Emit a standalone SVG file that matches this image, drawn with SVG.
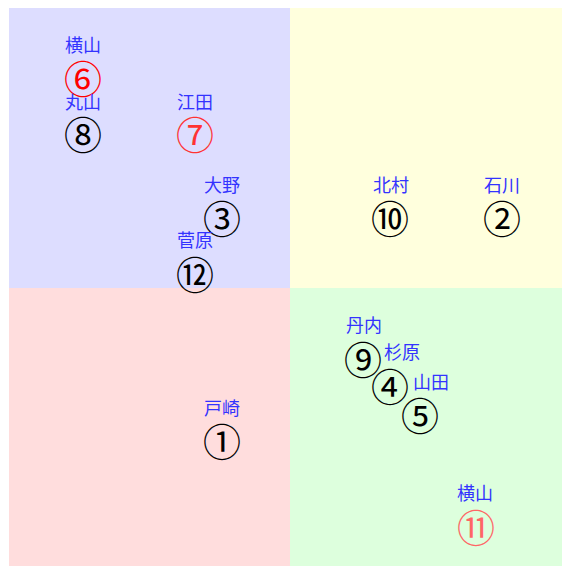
<svg xmlns="http://www.w3.org/2000/svg" width="562" height="566" viewBox="0 0 562 566">
<style>
.lbl{font-family:"Noto Sans CJK JP",sans-serif;font-size:18px;fill:#3333ff;text-anchor:middle}
.num{font-family:"DejaVu Serif","Noto Sans CJK JP",serif;font-size:38px;text-anchor:middle;fill:#000}
.red{fill:#ff0000}
.red2{fill:#ff3333}
.red3{fill:#ff6666}
</style>
<rect width="562" height="566" fill="#ffffff"/>
<g id="quadrants">
<rect x="9" y="8" width="281" height="280" fill="#ddddff"/>
<rect x="290" y="8" width="272" height="280" fill="#ffffdd"/>
<rect x="9" y="288" width="281" height="278" fill="#ffdddd"/>
<rect x="290" y="288" width="272" height="278" fill="#ddffdd"/>
</g>
<g id="connectors"></g>
<g id="n6"><text class="lbl" x="83" y="52">横山</text><text class="num red" x="83" y="93">⑥</text></g>
<g id="n8"><text class="lbl" x="83" y="109">丸山</text><text class="num" x="83" y="149">⑧</text></g>
<g id="n7"><text class="lbl" x="195" y="109">江田</text><text class="num red2" x="195" y="149">⑦</text></g>
<g id="n3"><text class="lbl" x="222" y="192">大野</text><text class="num" x="222" y="233">③</text></g>
<g id="n12"><text class="lbl" x="195" y="247">菅原</text><text class="num" x="195" y="289">⑫</text></g>
<g id="n10"><text class="lbl" x="391" y="192">北村</text><text class="num" x="390" y="233">⑩</text></g>
<g id="n2"><text class="lbl" x="502" y="192">石川</text><text class="num" x="502" y="233">②</text></g>
<g id="n1"><text class="lbl" x="222" y="415">戸崎</text><text class="num" x="222" y="456">①</text></g>
<g id="n9"><text class="lbl" x="364" y="332">丹内</text><text class="num" x="363" y="374">⑨</text></g>
<g id="n4"><text class="lbl" x="402" y="359">杉原</text><text class="num" x="390" y="401">④</text></g>
<g id="n5"><text class="lbl" x="431" y="389">山田</text><text class="num" x="420" y="430">⑤</text></g>
<g id="n11"><text class="lbl" x="475" y="500">横山</text><text class="num red3" x="476" y="542">⑪</text></g>
</svg>
